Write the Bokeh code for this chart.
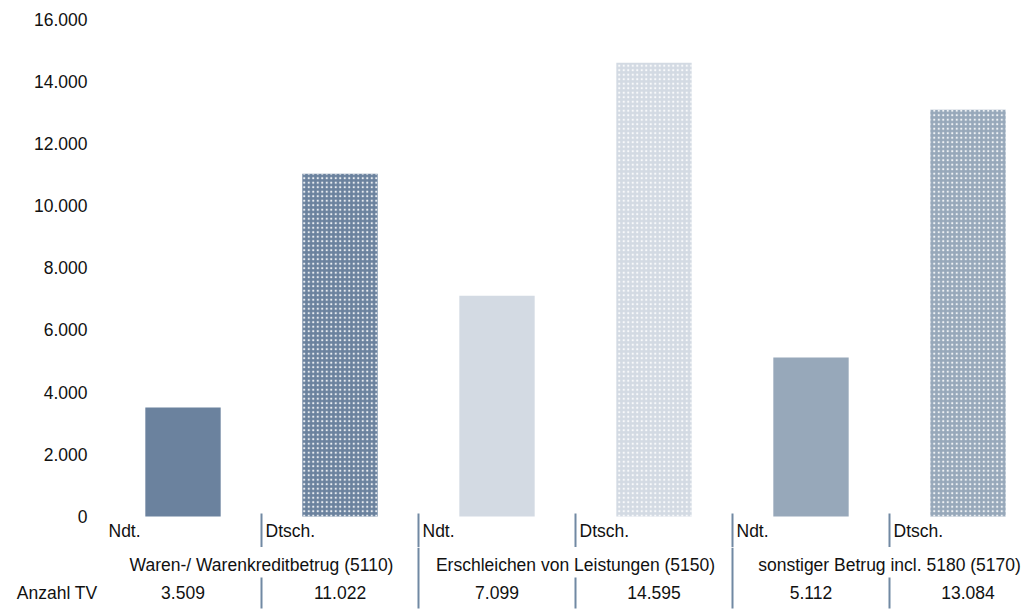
from bokeh.plotting import figure
from bokeh.layouts import column
from bokeh.models import Range1d, FixedTicker, ColumnDataSource
from bokeh.core.properties import value
from bokeh.embed import file_html
from bokeh.resources import INLINE

# ---- data ----
categories = ["Waren-/ Warenkreditbetrug (5110)",
              "Erschleichen von Leistungen (5150)",
              "sonstiger Betrug incl. 5180 (5170)"]
subgroups = ["Ndt.", "Dtsch."]
values = [3509, 11022, 7099, 14595, 5112, 13084]
y_ticks = [0, 2000, 4000, 6000, 8000, 10000, 12000, 14000, 16000]
row_label = "Anzahl TV"

# ---- style ----
base_colors = ["#6b829e", "#d3dae3", "#97a8ba"]
sep_color = "#7189a3"
TXT = "#111111"
FONT = "Liberation Sans"
FS = "17.5px"

def de_fmt(v):
    return f"{v:,}".replace(",", ".")

W = 1033
H1, H2 = 547, 64
LEFT = 104
SLOT_PX = 157.0
PX_PER_UNIT = 497.5 / 16000.0
TOP_PX = 18.5        # pixel position of the top tick
ZERO_PX = 516.0      # pixel position of 0

def px(u):
    return u / PX_PER_UNIT

x_end = (W - LEFT) / SLOT_PX
y_top = y_ticks[-1] + px(TOP_PX)
y_bottom = -px(H1 - ZERO_PX)

def style_axis(ax, standoff):
    ax.axis_line_color = None
    ax.major_tick_line_color = None
    ax.minor_tick_line_color = None
    ax.major_tick_out = 0
    ax.major_tick_in = 0
    ax.major_label_standoff = standoff
    ax.major_label_text_font = FONT
    ax.major_label_text_font_size = FS
    ax.major_label_text_color = TXT

# ---------------- chart (with first table row) ----------------
xr = Range1d(0, x_end)
p = figure(width=W, height=H1, output_backend="svg", toolbar_location=None,
           x_range=xr, y_range=Range1d(y_bottom, y_top),
           x_axis_type=None, min_border_left=LEFT, min_border_right=0,
           min_border_top=0, min_border_bottom=0)
p.outline_line_color = None
p.xgrid.visible = False
p.ygrid.visible = False

n = len(values)
slot_centers = [i + 0.5 for i in range(n)]
bar_colors = [base_colors[i // 2] for i in range(n)]

solid = ColumnDataSource(dict(x=slot_centers[0::2], top=values[0::2], c=bar_colors[0::2]))
hatched = ColumnDataSource(dict(x=slot_centers[1::2], top=values[1::2], c=bar_colors[1::2]))

p.vbar(x="x", top="top", bottom=0, width=0.48, source=solid,
       fill_color="c", line_color=None)
p.vbar(x="x", top="top", bottom=0, width=0.48, source=hatched,
       fill_color="c", line_color=None,
       hatch_pattern="dot", hatch_color="white", hatch_scale=4.5,
       hatch_weight=1.5, hatch_alpha=0.85)

yax = p.yaxis[0]
yax.ticker = FixedTicker(ticks=y_ticks)
yax.major_label_overrides = {t: de_fmt(t) for t in y_ticks}
style_axis(yax, 17)

# row 1: subgroup labels
sub_src = ColumnDataSource(dict(x=list(range(n)), y=[0] * n,
                                t=[subgroups[i % 2] for i in range(n)]))
p.text(x="x", y="y", text="t", source=sub_src, x_offset=4, y_offset=14,
       text_align="left", text_baseline="middle",
       text_font=value(FONT), text_font_size=FS, text_color=TXT)

seps = list(range(1, n))
p.segment(x0=seps, x1=seps, y0=[px(3)] * len(seps), y1=[y_bottom] * len(seps),
          line_color=sep_color, line_width=2)

# ---------------- remaining table rows ----------------
t = figure(width=W, height=H2, output_backend="svg", toolbar_location=None,
           x_range=xr, y_range=Range1d(H2, 0), x_axis_type=None,
           min_border_left=LEFT, min_border_right=0,
           min_border_top=0, min_border_bottom=0)
t.outline_line_color = None
t.xgrid.visible = False
t.ygrid.visible = False

ROW2, ROW3 = 17, 45   # row centres (px from top of this strip)

tax = t.yaxis[0]
tax.ticker = FixedTicker(ticks=[ROW3])
tax.major_label_overrides = {ROW3: row_label}
style_axis(tax, 7)

cat_src = ColumnDataSource(dict(x=[2 * i + 1 for i in range(len(categories))],
                                y=[ROW2] * len(categories), t=categories))
t.text(x="x", y="y", text="t", source=cat_src,
       text_align="center", text_baseline="middle",
       text_font=value(FONT), text_font_size=FS, text_color=TXT)

val_src = ColumnDataSource(dict(x=slot_centers, y=[ROW3] * n,
                                t=[de_fmt(v) for v in values]))
t.text(x="x", y="y", text="t", source=val_src,
       text_align="center", text_baseline="middle",
       text_font=value(FONT), text_font_size=FS, text_color=TXT)

inner = [i for i in range(1, n) if i % 2 == 1]
outer = [i for i in range(1, n) if i % 2 == 0]
t.segment(x0=inner, x1=inner, y0=[30] * len(inner), y1=[61] * len(inner),
          line_color=sep_color, line_width=2)
t.segment(x0=outer, x1=outer, y0=[0] * len(outer), y1=[61] * len(outer),
          line_color=sep_color, line_width=2)

layout = column(p, t, spacing=0)
open("out.html", "w").write(file_html(layout, INLINE))
